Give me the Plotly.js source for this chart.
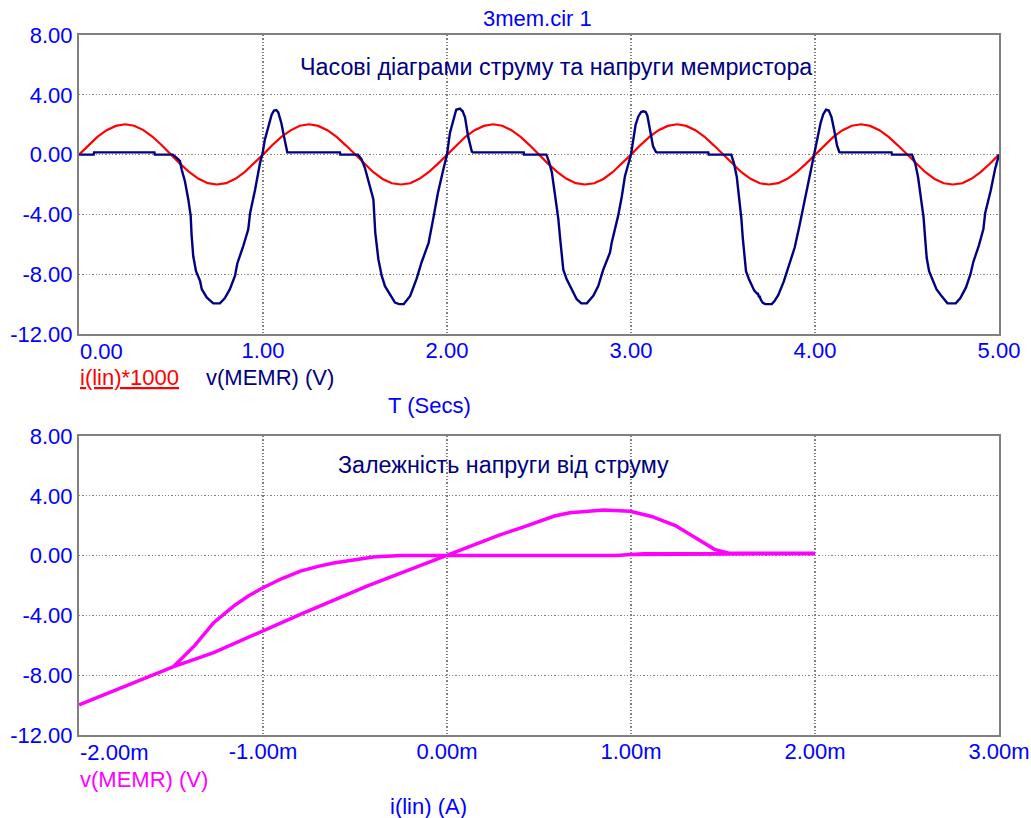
<!DOCTYPE html>
<html><head><meta charset="utf-8">
<script src="https://cdn.plot.ly/plotly-3.0.1.min.js"></script>
<style>html,body{margin:0;padding:0;background:#fff}</style>
</head><body><div id="chart" style="width:1031px;height:818px"></div>
<script>
// ---------- DATA ----------
// Top plot: i(lin)*1000 (red), sampled every 0.05 s
const redT = [0.00,0.05,0.10,0.15,0.20,0.25,0.30,0.35,0.40,0.45,0.50,0.55,0.60,0.65,0.70,0.75,0.80,0.85,0.90,0.95,
  1.00,1.05,1.10,1.15,1.20,1.25,1.30,1.35,1.40,1.45,1.50,1.55,1.60,1.65,1.70,1.75,1.80,1.85,1.90,1.95,
  2.00,2.05,2.10,2.15,2.20,2.25,2.30,2.35,2.40,2.45,2.50,2.55,2.60,2.65,2.70,2.75,2.80,2.85,2.90,2.95,
  3.00,3.05,3.10,3.15,3.20,3.25,3.30,3.35,3.40,3.45,3.50,3.55,3.60,3.65,3.70,3.75,3.80,3.85,3.90,3.95,
  4.00,4.05,4.10,4.15,4.20,4.25,4.30,4.35,4.40,4.45,4.50,4.55,4.60,4.65,4.70,4.75,4.80,4.85,4.90,4.95,5.00];
const redI = [0.00,0.62,1.18,1.63,1.92,2.03,1.93,1.64,1.19,0.63,0.00,-0.62,-1.18,-1.62,-1.91,-2.00,-1.91,-1.62,-1.17,-0.61,
  0.00,0.63,1.18,1.62,1.93,2.03,1.92,1.63,1.18,0.62,0.00,-0.63,-1.18,-1.63,-1.92,-2.00,-1.92,-1.62,-1.18,-0.62,
  0.00,0.62,1.19,1.63,1.92,2.03,1.93,1.63,1.18,0.62,-0.01,-0.62,-1.17,-1.62,-1.91,-2.00,-1.92,-1.63,-1.18,-0.62,
  0.00,0.62,1.18,1.63,1.92,2.03,1.92,1.63,1.19,0.62,0.00,-0.62,-1.18,-1.62,-1.92,-2.00,-1.91,-1.62,-1.18,-0.62,
  0.00,0.62,1.18,1.63,1.93,2.03,1.92,1.63,1.18,0.62,0.00,-0.62,-1.18,-1.63,-1.92,-2.00,-1.92,-1.62,-1.17,-0.61,0.00];

// Top plot: v(MEMR) (navy)
const memT = [0,0.08,0.082,0.41,0.412,0.51,0.531,0.549,0.558,0.576,0.594,0.607,0.612,0.621,0.636,0.658,0.667,0.694,0.73,0.766,
  0.793,0.82,0.848,0.86,0.893,0.92,0.93,0.957,0.984,0.998,1.01,1.03,1.047,1.06,1.072,1.083,1.10,1.114,1.128,1.132,
  1.418,1.42,1.516,1.535,1.554,1.58,1.60,1.61,1.627,1.645,1.663,1.70,1.717,1.74,1.765,1.80,1.835,1.862,1.90,1.925,
  1.95,1.98,2.0,2.016,2.034,2.05,2.07,2.085,2.098,2.115,2.135,2.14,
  2.417,2.419,2.54,2.555,2.57,2.592,2.605,2.614,2.625,2.632,2.65,2.687,2.705,2.73,2.76,2.795,2.822,2.85,2.886,2.895,
  2.93,2.95,2.967,3.0,3.016,3.025,3.04,3.055,3.067,3.08,3.089,3.103,3.12,3.135,3.14,
  3.42,3.422,3.545,3.56,3.575,3.59,3.60,3.607,3.615,3.625,3.64,3.655,3.67,3.685,3.69,3.695,3.70,3.705,3.715,3.73,3.765,
  3.78,3.80,3.83,3.86,3.89,3.915,3.94,3.965,3.985,4.0,4.015,4.03,4.045,4.06,4.075,4.09,4.105,4.12,4.132,4.135,
  4.416,4.418,4.527,4.545,4.56,4.575,4.59,4.598,4.607,4.62,4.64,4.66,4.69,4.72,4.765,4.79,4.82,4.845,4.86,4.89,
  4.915,4.925,4.955,4.98,5.0];
const memV = [0,0,0.15,0.15,0,0,-0.22,-0.44,-1.0,-1.8,-3.0,-4.1,-5.4,-6.8,-7.8,-8.45,-9.0,-9.55,-9.95,-9.95,
  -9.6,-9.0,-8.1,-7.3,-6.1,-5.0,-3.9,-2.35,-0.55,0.1,1.0,1.9,2.67,2.95,2.98,2.82,2.1,1.22,0.22,0.15,
  0.15,0,0,-0.3,-0.9,-2.1,-3.0,-5.2,-7.0,-8.1,-8.8,-9.55,-9.9,-10.0,-10.0,-9.45,-8.3,-7.2,-5.9,-4.3,
  -2.6,-1.0,0.0,1.45,2.33,3.0,3.07,2.9,2.5,1.2,0.2,0.15,
  0.15,0,0,-0.5,-1.2,-3.0,-4.3,-5.5,-7.0,-7.7,-8.33,-9.2,-9.67,-9.95,-9.95,-9.45,-8.8,-7.67,-6.55,-5.9,
  -4.1,-2.8,-1.45,0,1.22,2.0,2.55,2.85,2.9,2.85,2.6,1.67,0.55,0.18,0.15,
  0.15,0,0,-0.6,-1.5,-3.0,-4.3,-5.5,-6.8,-7.8,-8.3,-8.7,-9.1,-9.3,-9.3,-9.5,-9.5,-9.7,-9.9,-10.0,-10.0,
  -9.8,-9.4,-8.5,-7.4,-6.2,-4.8,-3.3,-1.8,-0.7,0.1,1.2,2.1,2.7,3.0,2.95,2.5,1.6,0.6,0.18,0.15,
  0.15,0,0,-0.6,-1.5,-2.9,-4.2,-5.5,-6.9,-7.8,-8.4,-9.0,-9.5,-9.95,-9.95,-9.6,-8.9,-8.0,-7.2,-6.1,
  -5.0,-3.9,-2.4,-0.9,0.0];

// Bottom plot: v(MEMR) vs i(lin), current in mA
const loopI = [0,0.46,0.92,1.0,1.07,1.5,2.0,1.5,1.07,1.0,0.92,0.46,0,
  -0.254,-0.4,-0.507,-0.616,-0.7,-0.797,-0.9,-1.0,-1.08,-1.16,-1.268,-1.373,-1.486,-1.594,-1.8,-2.0,
  -1.8,-1.594,-1.486,-1.268,-1.0,-0.797,-0.435,0,0.284,0.398,0.584,0.668,0.853,0.995,1.112,1.241,1.352,1.454,1.537,2.0];
const loopV = [0,0,0,0.08,0.12,0.13,0.13,0.13,0.12,0.08,0,0,0,
  0,-0.1,-0.27,-0.49,-0.72,-1.04,-1.55,-2.15,-2.7,-3.38,-4.49,-6.04,-7.42,-7.95,-8.95,-9.98,
  -8.95,-7.95,-7.42,-6.49,-5.04,-3.93,-2.04,0,1.37,1.84,2.65,2.87,3.05,2.96,2.62,2.01,1.15,0.42,0.15,0.15];

// Tick labels
const yTickVals = [-12,-8,-4,0,4,8];
const yTickText = ['-12.00','-8.00','-4.00','0.00','4.00','8.00'];
const topXVals = [0,1,2,3,4,5];
const topXText = ['0.00','1.00','2.00','3.00','4.00','5.00'];
const botXVals = [-2,-1,0,1,2,3];
const botXText = ['-2.00m','-1.00m','0.00m','1.00m','2.00m','3.00m'];

// ---------- LAYOUT ----------
const W = 1031, H = 818;
const L = 79, R = 999, T = 35, B = 735;
const px = x => (x - L) / (R - L);
const py = y => (B - y) / (B - T);
const F = 'Liberation Sans, Arial, sans-serif';
const BLUE = '#0000ff', NAVY = '#000080', RED = '#ff0000', MAG = '#ff00ff';

const axBase = {
  showgrid: true, gridcolor: '#808080', gridwidth: 1.3, griddash: '1.3px,2px',
  zeroline: false, showline: true, mirror: true, linecolor: '#808080', linewidth: 2,
  ticks: '', tickfont: {family: F, size: 22, color: BLUE}, fixedrange: true, automargin: false
};

const traces = [
  {x: redT, y: redI, xaxis: 'x', yaxis: 'y', mode: 'lines', line: {color: RED, width: 2.2}, hoverinfo: 'skip'},
  {x: memT, y: memV, xaxis: 'x', yaxis: 'y', mode: 'lines', line: {color: NAVY, width: 2.4}, hoverinfo: 'skip'},
  {x: loopI, y: loopV, xaxis: 'x2', yaxis: 'y2', mode: 'lines', line: {color: MAG, width: 3.5}, hoverinfo: 'skip'}
];

const ann = (text, x, y, color, xanchor, size) => ({
  text, x: px(x), y: py(y), xref: 'paper', yref: 'paper', showarrow: false,
  xanchor: xanchor || 'left', yanchor: 'middle', font: {family: F, size: size || 22, color}
});

// the first x tick label of each plot sits left-aligned at the plot edge (as in the reference)
const layout = {
  width: W, height: H, showlegend: false,
  paper_bgcolor: '#fff', plot_bgcolor: '#fff',
  margin: {l: L, r: W - R, t: T, b: H - B, pad: 0},
  xaxis: Object.assign({}, axBase, {anchor: 'y', domain: [0, 1], range: [0, 5], ticklabelstandoff: -4,
    tickvals: topXVals, ticktext: topXText.map((t, i) => i === 0 ? '' : t), ticklabeloverflow: 'allow'}),
  yaxis: Object.assign({}, axBase, {anchor: 'x', domain: [py(334), 1], range: [-12, 8],
    tickvals: yTickVals, ticktext: yTickText}),
  xaxis2: Object.assign({}, axBase, {anchor: 'y2', domain: [0, 1], range: [-2, 3], ticklabelstandoff: -4,
    tickvals: botXVals, ticktext: botXText.map((t, i) => i === 0 ? '' : t), ticklabeloverflow: 'allow'}),
  yaxis2: Object.assign({}, axBase, {anchor: 'x2', domain: [0, py(436)], range: [-12, 8],
    tickvals: yTickVals, ticktext: yTickText}),
  annotations: [
    ann(topXText[0], 78, 351, BLUE),
    ann(botXText[0], 78, 752, BLUE),
    ann('3mem.cir 1', 537.5, 19, BLUE, 'center'),
    ann('Часові діаграми струму та напруги мемристора', 556, 67, NAVY, 'center', 23.3),
    ann('<u>i(lin)*1000</u>', 78, 377, RED),
    ann('v(MEMR) (V)', 204, 377, NAVY),
    ann('T (Secs)', 386, 405.5, BLUE),
    ann('Залежність напруги від струму', 503, 465, NAVY, 'center', 23.3),
    ann('v(MEMR) (V)', 78, 779, MAG),
    ann('i(lin) (A)', 388, 806.5, BLUE)
  ]
};

Plotly.newPlot('chart', traces, layout, {staticPlot: true, displayModeBar: false});
</script></body></html>
